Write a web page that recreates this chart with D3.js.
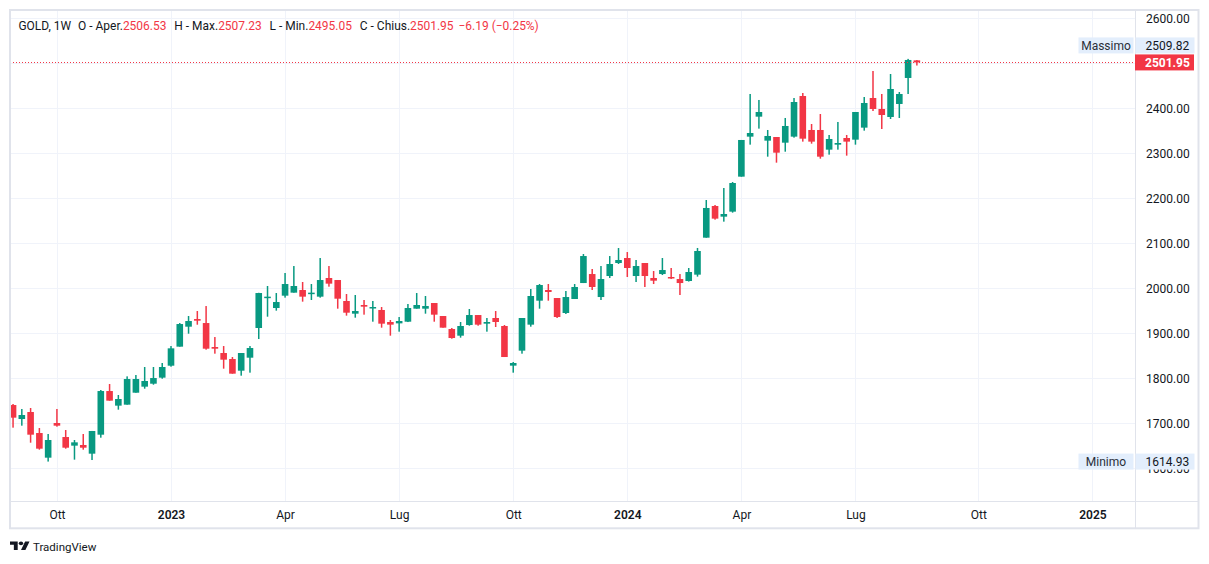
<!DOCTYPE html>
<html><head><meta charset="utf-8">
<script src="https://cdn.jsdelivr.net/npm/d3@7"></script>
<style>
html,body{margin:0;padding:0;background:#fff;}
svg{display:block;font-family:Roboto,"Noto Sans",sans-serif;}
</style>
</head><body>
<svg id="c" width="1209" height="564"></svg>
<script>
// ---------- DATA (weekly candles, GOLD 1W) ----------
const dates = [
"2022-08-29","2022-09-05","2022-09-12","2022-09-19","2022-09-26","2022-10-03","2022-10-10","2022-10-17","2022-10-24","2022-10-31",
"2022-11-07","2022-11-14","2022-11-21","2022-11-28","2022-12-05","2022-12-12","2022-12-19","2022-12-26","2023-01-02","2023-01-09",
"2023-01-16","2023-01-23","2023-01-30","2023-02-06","2023-02-13","2023-02-20","2023-02-27","2023-03-06","2023-03-13","2023-03-20",
"2023-03-27","2023-04-03","2023-04-10","2023-04-17","2023-04-24","2023-05-01","2023-05-08","2023-05-15","2023-05-22","2023-05-29",
"2023-06-05","2023-06-12","2023-06-19","2023-06-26","2023-07-03","2023-07-10","2023-07-17","2023-07-24","2023-07-31","2023-08-07",
"2023-08-14","2023-08-21","2023-08-28","2023-09-04","2023-09-11","2023-09-18","2023-09-25","2023-10-02","2023-10-09","2023-10-16",
"2023-10-23","2023-10-30","2023-11-06","2023-11-13","2023-11-20","2023-11-27","2023-12-04","2023-12-11","2023-12-18","2023-12-25",
"2024-01-01","2024-01-08","2024-01-15","2024-01-22","2024-01-29","2024-02-05","2024-02-12","2024-02-19","2024-02-26","2024-03-04",
"2024-03-11","2024-03-18","2024-03-25","2024-04-01","2024-04-08","2024-04-15","2024-04-22","2024-04-29","2024-05-06","2024-05-13",
"2024-05-20","2024-05-27","2024-06-03","2024-06-10","2024-06-17","2024-06-24","2024-07-01","2024-07-08","2024-07-15","2024-07-22",
"2024-07-29","2024-08-05","2024-08-12","2024-08-19"];

const open = [
1740.6,1709.5,1725.1,1678.4,1623.6,1700.6,1669.5,1650.3,1651.8,1632.5,
1674.7,1771.7,1739.2,1741.4,1768.0,1781.4,1788.0,1801.4,1828.0,1870.3,
1914.7,1931.7,1922.8,1869.5,1856.2,1842.9,1816.9,1845.8,1911.8,1978.4,
1956.2,1983.6,1990.3,1996.2,1988.8,1981.4,2022.9,2018.4,1971.8,1943.6,
1962.9,1956.2,1951.8,1925.1,1922.1,1925.8,1954.7,1954.7,1967.3,1938.4,
1909.5,1894.7,1918.4,1940.6,1921.4,1934.0,1916.2,1828.1,1861.4,1919.2,
1972.5,1996.2,1978.4,1945.1,1976.2,2011.7,2031.7,1980.6,2027.3,2056.2,
2067.3,2027.3,2056.2,2022.9,2031.7,2025.1,2020.6,2016.2,2030.3,2112.5,
2182.9,2159.2,2170.3,2248.1,2337.0,2381.4,2328.1,2336.2,2323.6,2337.0,
2427.3,2351.8,2351.8,2308.1,2319.2,2334.0,2330.3,2357.0,2422.9,2398.5,
2380.7,2409.6,2467.4,2506.53];

const high = [
1742.9,1731.8,1734.0,1689.5,1676.2,1731.8,1685.1,1662.9,1676.2,1683.0,
1774.0,1787.3,1762.9,1804.3,1807.3,1825.1,1825.1,1834.0,1871.7,1922.8,
1938.4,1949.5,1960.6,1891.7,1871.7,1847.3,1856.2,1871.7,1990.0,2005.1,
1989.5,2034.0,2049.5,2014.0,2009.5,2067.3,2049.5,2018.4,1987.3,1985.1,
1974.0,1971.8,1958.4,1929.5,1936.2,1965.1,1989.5,1982.9,1967.3,1938.4,
1911.8,1925.1,1954.0,1940.6,1934.0,1949.5,1918.4,1836.2,1934.0,1998.4,
2009.5,2009.5,1978.4,1994.0,2009.5,2076.2,2042.9,2049.5,2071.7,2089.5,
2080.6,2062.9,2056.2,2038.4,2067.3,2045.1,2031.7,2045.1,2089.6,2196.2,
2185.1,2222.9,2236.2,2329.6,2431.8,2418.5,2351.8,2336.2,2378.5,2422.9,
2434.0,2365.1,2387.3,2340.7,2369.6,2340.7,2391.8,2425.1,2482.9,2431.8,
2476.2,2436.2,2509.82,2507.23];

const low = [
1690.3,1694.7,1656.9,1641.4,1614.93,1692.5,1643.6,1619.2,1641.4,1618.4,
1668.0,1750.3,1730.3,1741.4,1768.0,1776.9,1785.8,1799.1,1825.8,1870.3,
1899.1,1919.1,1863.6,1854.7,1821.4,1810.3,1805.8,1812.5,1887.3,1936.9,
1950.3,1979.2,1990.3,1970.3,1974.0,1979.2,2003.6,1954.7,1939.2,1934.7,
1941.4,1925.8,1912.5,1894.7,1903.6,1925.0,1954.7,1943.6,1925.8,1912.5,
1888.0,1890.3,1916.9,1916.9,1903.6,1914.0,1847.3,1812.5,1854.7,1914.7,
1954.7,1972.5,1934.0,1942.9,1976.2,2011.7,1996.2,1974.0,2022.9,2054.0,
2025.1,2014.0,2002.9,2009.5,2029.5,2020.6,1985.1,2015.0,2025.9,2112.5,
2152.5,2148.1,2168.1,2248.1,2319.2,2354.8,2292.5,2279.2,2303.6,2334.8,
2325.9,2321.4,2288.1,2297.0,2308.1,2294.8,2319.2,2350.3,2394.0,2354.0,
2376.2,2378.5,2431.8,2495.05];

const close = [
1712.5,1718.4,1674.7,1643.6,1662.9,1694.7,1645.8,1657.7,1645.8,1682.9,
1771.7,1750.3,1754.0,1798.4,1798.4,1794.0,1800.6,1825.1,1866.6,1920.6,
1927.3,1928.0,1865.8,1865.8,1841.4,1810.3,1856.2,1867.3,1989.5,1981.4,
1969.5,2009.5,2005.1,1981.4,1990.3,2018.4,2010.3,1976.9,1945.8,1949.5,
1959.2,1958.4,1921.4,1919.2,1927.3,1956.2,1962.9,1960.6,1941.4,1912.5,
1889.5,1916.2,1940.6,1919.2,1925.1,1925.1,1847.3,1834.0,1934.0,1982.9,
2007.3,1991.8,1936.2,1980.6,2002.9,2071.7,2002.9,2020.6,2054.0,2062.9,
2045.1,2049.5,2027.3,2016.9,2040.6,2022.9,2011.7,2036.2,2082.9,2178.5,
2154.8,2165.1,2234.0,2329.6,2345.1,2391.8,2338.5,2301.4,2360.7,2414.0,
2332.5,2325.9,2292.5,2331.8,2322.9,2325.9,2391.8,2411.8,2398.5,2385.1,
2442.9,2431.8,2507.4,2501.95];

const priceTicks = [1600,1700,1800,1900,2000,2100,2200,2300,2400,2500,2600];
const timeTickDates = ["2022-10-03","2023-01-02","2023-04-03","2023-07-03","2023-10-02","2024-01-01","2024-04-01","2024-07-01","2024-10-07","2025-01-06"];
const timeTickLabels = ["Ott","2023","Apr","Lug","Ott","2024","Apr","Lug","Ott","2025"];

const symbolLabel = "GOLD, 1W";
const ohlcLabels = ["O - Aper.","H - Max.","L - Min.","C - Chius."];
const ohlcValues = [2506.53, 2507.23, 2495.05, 2501.95];
const changeAbs = -6.19, changePct = -0.25;
const highestHigh = 2509.82, lowestLow = 1614.93;
const highLabel = "Massimo", lowLabel = "Minimo";

// ---------- LAYOUT ----------
const UP = "#089981", DOWN = "#f23645", TXT = "#131722", GRID = "#f0f3fa", LINE = "#e0e3eb";
const L = 10, R = 1135, T = 10, B = 501;
const parse = d3.utcParse("%Y-%m-%d");
const rows = dates.map((d,i)=>({d:parse(d),o:open[i],h:high[i],l:low[i],c:close[i]}));

const x = d3.scaleUtc().domain([parse("2023-01-02"), parse("2024-01-01")]).range([171, 627.3]);
const y = d3.scaleLinear().domain([1600, 2600]).range([468.3, 18.3]);

const svg = d3.select("#c");
svg.append("rect").attr("width",1209).attr("height",564).attr("fill","#fff");

svg.append("defs").append("clipPath").attr("id","plot")
  .append("rect").attr("x",L+1).attr("y",T+1).attr("width",R-L-1).attr("height",B-T-1);

// grid
const grid = svg.append("g").attr("clip-path","url(#plot)");
grid.selectAll("line.h").data(priceTicks).join("line").attr("class","h")
  .attr("x1",L).attr("x2",R)
  .attr("y1",d=>Math.round(y(d))+0.5).attr("y2",d=>Math.round(y(d))+0.5)
  .attr("stroke",GRID).attr("stroke-width",1);
grid.selectAll("line.v").data(timeTickDates).join("line").attr("class","v")
  .attr("x1",d=>Math.round(x(parse(d)))+0.5).attr("x2",d=>Math.round(x(parse(d)))+0.5)
  .attr("y1",T).attr("y2",B)
  .attr("stroke",GRID).attr("stroke-width",1);

// candles
const bw = 6.6, ww = 1.5;
const cg = svg.append("g").attr("clip-path","url(#plot)");
const cs = cg.selectAll("g.c").data(rows).join("g").attr("class","c")
  .attr("fill",d=>d.c>=d.o?UP:DOWN);
cs.append("rect")
  .attr("x",d=>x(d.d)-ww/2).attr("width",ww)
  .attr("y",d=>y(d.h)).attr("height",d=>Math.max(1,y(d.l)-y(d.h)));
cs.append("rect")
  .attr("x",d=>x(d.d)-bw/2).attr("width",bw)
  .attr("y",d=>y(Math.max(d.o,d.c))).attr("height",d=>Math.max(1.5,Math.abs(y(d.o)-y(d.c))));

// last price dotted line
const last = rows[rows.length-1];
svg.append("line").attr("x1",L).attr("x2",R)
  .attr("y1",Math.round(y(last.c))+0.5).attr("y2",Math.round(y(last.c))+0.5)
  .attr("stroke",DOWN).attr("stroke-width",1).attr("stroke-dasharray","1,2");

// header: sequential segments, then fitted to the reference width
const fmt2 = d3.format(".2f");
const minus = s => s.replace("-","\u2212");
const segs = [{t:symbolLabel,c:TXT,gap:0}];
ohlcLabels.forEach((lab,i)=>{
  segs.push({t:lab,c:TXT,gap:i===0?7:8});
  segs.push({t:fmt2(ohlcValues[i]),c:DOWN,gap:0});
});
segs.push({t:minus(fmt2(changeAbs))+" ("+minus(fmt2(changePct))+"%)",c:DOWN,gap:5});
function drawHeader(fs){
  svg.select("g.hdr").remove();
  const g = svg.append("g").attr("class","hdr");
  let cx = 18.4;
  segs.forEach(s=>{
    cx += s.gap;
    const t = g.append("text").attr("x",cx).attr("y",30).attr("font-size",fs).attr("fill",s.c).text(s.t);
    cx += t.node().getComputedTextLength();
  });
  return cx;
}
let endX = drawHeader(13);
const fitFs = Math.max(11, Math.min(13, 13 * (539.6-18.4-43) / (endX-18.4-43)));
drawHeader(fitFs);

// price axis
const ya = svg.append("g").attr("transform",`translate(${R},0)`)
  .call(d3.axisRight(y).tickValues(priceTicks).tickFormat(fmt2).tickSize(0).tickPadding(11));
ya.select(".domain").remove();
ya.selectAll("text").attr("font-size",12).attr("fill",TXT).attr("font-family","Roboto, sans-serif");

// time axis
const xa = svg.append("g").attr("transform",`translate(0,${B})`)
  .call(d3.axisBottom(x).tickValues(timeTickDates.map(parse)).tickFormat((d,i)=>timeTickLabels[i]).tickSize(0).tickPadding(9));
xa.select(".domain").remove();
xa.selectAll("text").attr("font-size",12).attr("fill",TXT).attr("font-family","Roboto, sans-serif")
  .attr("font-weight",(d,i)=>/^\d{4}$/.test(timeTickLabels[i])?600:400);

// separators & frame
svg.append("line").attr("x1",R+0.5).attr("x2",R+0.5).attr("y1",T).attr("y2",528).attr("stroke",LINE);
svg.append("line").attr("x1",L).attr("x2",1198).attr("y1",B+0.5).attr("y2",B+0.5).attr("stroke",LINE);
svg.append("rect").attr("x",10).attr("y",10).attr("width",1188.5).attr("height",518.3)
  .attr("fill","none").attr("stroke",LINE).attr("stroke-width",2);

// price labels (boxes)
const boxH = 16;
function tagPair(label, value, cy){
  const top = cy - boxH/2;
  svg.append("rect").attr("x",R+0.5).attr("y",top).attr("width",59).attr("height",boxH).attr("fill","#e3eefc");
  svg.append("text").attr("x",R+10.5).attr("y",top+boxH/2).attr("dy","0.35em").attr("font-size",12).attr("fill",TXT)
    .text(fmt2(value));
  const lw = 55;
  svg.append("rect").attr("x",R-1.5-lw).attr("y",top).attr("width",lw).attr("height",boxH).attr("fill","#e3eefc");
  svg.append("text").attr("x",R-1.5-lw/2).attr("y",top+boxH/2).attr("dy","0.35em").attr("text-anchor","middle")
    .attr("font-size",12).attr("fill","#2a2e39").text(label);
}
const curTop = y(last.c) - boxH/2;
svg.append("rect").attr("x",R).attr("y",curTop).attr("width",59).attr("height",boxH).attr("fill",DOWN);
svg.append("text").attr("x",R+10).attr("y",curTop+boxH/2).attr("dy","0.35em").attr("font-size",12)
  .attr("font-weight",700).attr("fill","#fff").text(fmt2(last.c));
tagPair(highLabel, highestHigh, Math.min(y(highestHigh), curTop - 1 - boxH/2));
tagPair(lowLabel, lowestLow, y(lowestLow));

// TradingView logo
const logo = svg.append("g").attr("transform","translate(10,539.5) scale(0.55,0.48)").attr("fill",TXT);
logo.append("path").attr("d","M14 22H7V11H0V4h14v18zM28 22h-8l7.5-18h8L28 22z");
logo.append("circle").attr("cx",20).attr("cy",8).attr("r",4);
svg.append("text").attr("x",33).attr("y",550.5).attr("font-size",11.5).attr("fill",TXT).text("TradingView");
</script>
</body></html>
